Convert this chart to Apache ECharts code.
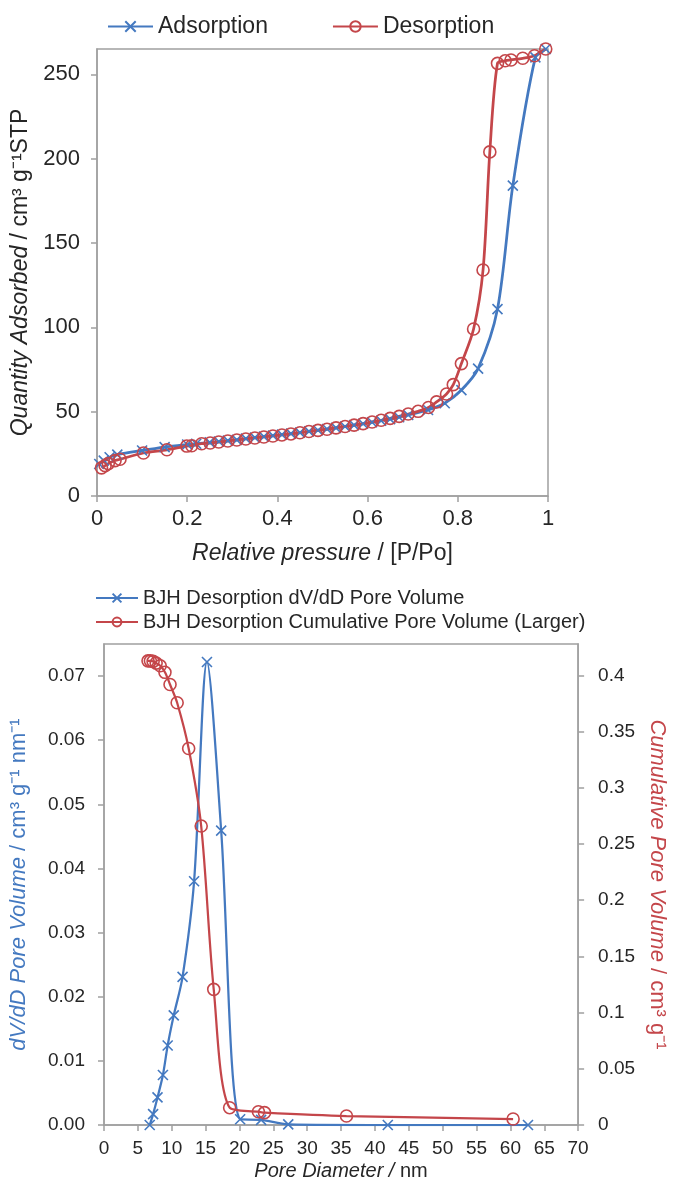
<!DOCTYPE html>
<html>
<head>
<meta charset="utf-8">
<script src="https://cdn.jsdelivr.net/npm/echarts@6/dist/echarts.min.js"></script>
<style>
html,body{margin:0;padding:0;background:#fff;}
#c{width:676px;height:1184px;}
</style>
</head>
<body>
<div id="c"></div>
<script>
// ---- Isotherm data (relative pressure, quantity adsorbed) ----
const adsP = [0.005,0.015,0.028,0.045,0.1,0.15,0.2,0.22,0.25,0.27,0.29,0.31,0.33,0.35,0.37,0.39,0.41,0.43,0.45,0.47,0.49,0.51,0.53,0.55,0.57,0.59,0.61,0.63,0.65,0.67,0.69,0.734,0.771,0.808,0.845,0.888,0.922,0.972,0.995];
const adsQ = [19,21,23,24.5,27,29,30.5,31,31.8,32.3,32.8,33.3,34,34.6,35.2,35.8,36.4,37,37.6,38.3,39,39.7,40.4,41.2,42,42.8,43.7,44.6,45.6,46.7,48,51,55,62.8,75.5,110.8,184,260,265];
const desP = [0.01,0.018,0.025,0.04,0.051,0.103,0.155,0.199,0.21,0.232,0.251,0.27,0.29,0.31,0.33,0.35,0.37,0.39,0.41,0.43,0.45,0.47,0.49,0.51,0.53,0.55,0.57,0.59,0.61,0.63,0.65,0.67,0.69,0.712,0.735,0.753,0.775,0.79,0.808,0.835,0.856,0.871,0.888,0.905,0.918,0.944,0.97,0.995];
const desQ = [16.7,18,19.2,21,21.8,25.5,27.4,29.6,29.8,31,31.4,32,32.6,33.2,33.8,34.4,35,35.6,36.2,36.8,37.5,38.2,38.9,39.6,40.4,41.2,42,42.9,43.9,44.9,46,47.2,48.6,50.2,52.5,55.8,60.5,66,78.5,99,134,204,256.5,258,258.5,259.5,261,265];
// ---- BJH data (pore diameter nm) ----
const bjhD = [6.75,7.25,7.9,8.7,9.4,10.3,11.6,13.3,15.2,17.3,20.1,23.2,27.2,41.9,62.6];
const bjhDv = [0,0.0017,0.0043,0.0078,0.0124,0.0171,0.0231,0.038,0.0722,0.0459,0.0009,0.0008,0.0001,0,0];
const cumD = [6.5,6.85,7.25,7.7,8.3,9.0,9.75,10.8,12.5,14.35,16.2,18.55,22.8,23.7,35.8,60.4];
const cumV = [0.413,0.413,0.4125,0.411,0.4086,0.4028,0.392,0.3757,0.335,0.266,0.1207,0.0154,0.0118,0.011,0.008,0.0053];
// ---- labels ----
const topNames = ['Adsorption','Desorption'];
const botNames = ['BJH Desorption dV/dD Pore Volume','BJH Desorption Cumulative Pore Volume (Larger)'];

const BLUE = '#4479C0', RED = '#C4464A', TXT = '#262626', AX = '#A0A0A0';
const FONT = '"Liberation Sans", Arial, sans-serif';
const XSYM = 'path://M0,0L10,10M10,0L0,10';
const zip = (a,b) => a.map((v,i)=>[v,b[i]]);

const axisCommon = {
  axisLine:{show:true,lineStyle:{color:AX,width:1.5}},
  axisTick:{show:true,inside:false,length:6,lineStyle:{color:AX,width:1.5}},
  splitLine:{show:false}
};
const nameStyle = (size,color) => ({fontSize:size,color:color,fontFamily:FONT,
  rich:{i:{fontStyle:'italic',fontSize:size,color:color,fontFamily:FONT}}});

const chart = echarts.init(document.getElementById('c'), null, {renderer:'canvas'});
chart.setOption({
  backgroundColor:'#fff',
  textStyle:{fontFamily:FONT,color:TXT},
  animation:false,
  legend:[
    {data:topNames, top:10, left:102, itemGap:64, itemWidth:45, itemHeight:13,
     textStyle:{fontSize:23,color:TXT,fontFamily:FONT}},
    {data:botNames, orient:'vertical', top:583, left:90, itemGap:4, itemWidth:42, itemHeight:11,
     textStyle:{fontSize:20,color:TXT,fontFamily:FONT}}
  ],
  grid:[
    {left:97, top:49, width:451, height:447, show:true, borderColor:AX, borderWidth:1.5, backgroundColor:'transparent'},
    {left:103, top:644, width:483, height:481, show:true, borderColor:AX, borderWidth:1.5, backgroundColor:'transparent'}
  ],
  xAxis:[
    Object.assign({}, axisCommon, {gridIndex:0, type:'value', min:0, max:1, interval:0.2,
      axisLabel:{fontSize:22,color:TXT,margin:12,fontFamily:FONT},
      name:'{i|Relative pressure} / [P/Po]', nameLocation:'middle', nameGap:46,
      nameTextStyle:nameStyle(23,TXT)}),
    Object.assign({}, axisCommon, {gridIndex:1, type:'value', min:0, max:70, interval:5,
      axisLabel:{fontSize:19,color:TXT,margin:14,fontFamily:FONT},
      name:'{i|Pore Diameter /} nm', nameLocation:'middle', nameGap:36,
      nameTextStyle:nameStyle(20,TXT)})
  ],
  yAxis:[
    Object.assign({}, axisCommon, {gridIndex:0, type:'value', min:0, max:265, interval:50,
      axisLabel:{fontSize:22,color:TXT,margin:17,showMaxLabel:false,fontFamily:FONT},
      name:'{i|Quantity Adsorbed} / cm³ g⁻¹STP', nameLocation:'middle', nameGap:54,
      nameTextStyle:nameStyle(23,TXT)}),
    Object.assign({}, axisCommon, {gridIndex:1, type:'value', min:0, max:0.075, interval:0.01, position:'left',
      axisLabel:{fontSize:19,color:TXT,margin:19,showMaxLabel:false,fontFamily:FONT,formatter:v=>v.toFixed(2)},
      name:'{i|dV/dD Pore Volume} / cm³ g⁻¹ nm⁻¹', nameLocation:'middle', nameGap:74,
      nameTextStyle:nameStyle(22,BLUE)}),
    Object.assign({}, axisCommon, {gridIndex:1, type:'value', min:0, max:0.428, interval:0.05, position:'right',
      axisLabel:{fontSize:19,color:TXT,margin:20,showMaxLabel:false,fontFamily:FONT},
      name:'{i|Cumulative Pore Volume} / cm³ g⁻¹', nameLocation:'middle', nameGap:66, nameRotate:-90,
      nameTextStyle:nameStyle(22,RED)})
  ],
  series:[
    {name:topNames[0], type:'line', xAxisIndex:0, yAxisIndex:0, data:zip(adsP,adsQ), smooth:0.3,
     symbol:XSYM, symbolSize:10, lineStyle:{color:BLUE,width:2.75},
     itemStyle:{color:BLUE,borderColor:BLUE,borderWidth:1.6}},
    {name:topNames[1], type:'line', xAxisIndex:0, yAxisIndex:0, data:zip(desP,desQ), smooth:0.3,
     symbol:'circle', symbolSize:12, lineStyle:{color:RED,width:2.75},
     itemStyle:{color:'rgba(255,255,255,0)',borderColor:RED,borderWidth:1.6}},
    {name:botNames[0], type:'line', xAxisIndex:1, yAxisIndex:1, data:zip(bjhD,bjhDv), smooth:0.3,
     symbol:XSYM, symbolSize:10, lineStyle:{color:BLUE,width:2.25},
     itemStyle:{color:BLUE,borderColor:BLUE,borderWidth:1.6}},
    {name:botNames[1], type:'line', xAxisIndex:1, yAxisIndex:2, data:zip(cumD,cumV), smooth:0.3,
     symbol:'circle', symbolSize:12, lineStyle:{color:RED,width:2.25},
     itemStyle:{color:'rgba(255,255,255,0)',borderColor:RED,borderWidth:1.6}}
  ]
});
</script>
</body>
</html>
